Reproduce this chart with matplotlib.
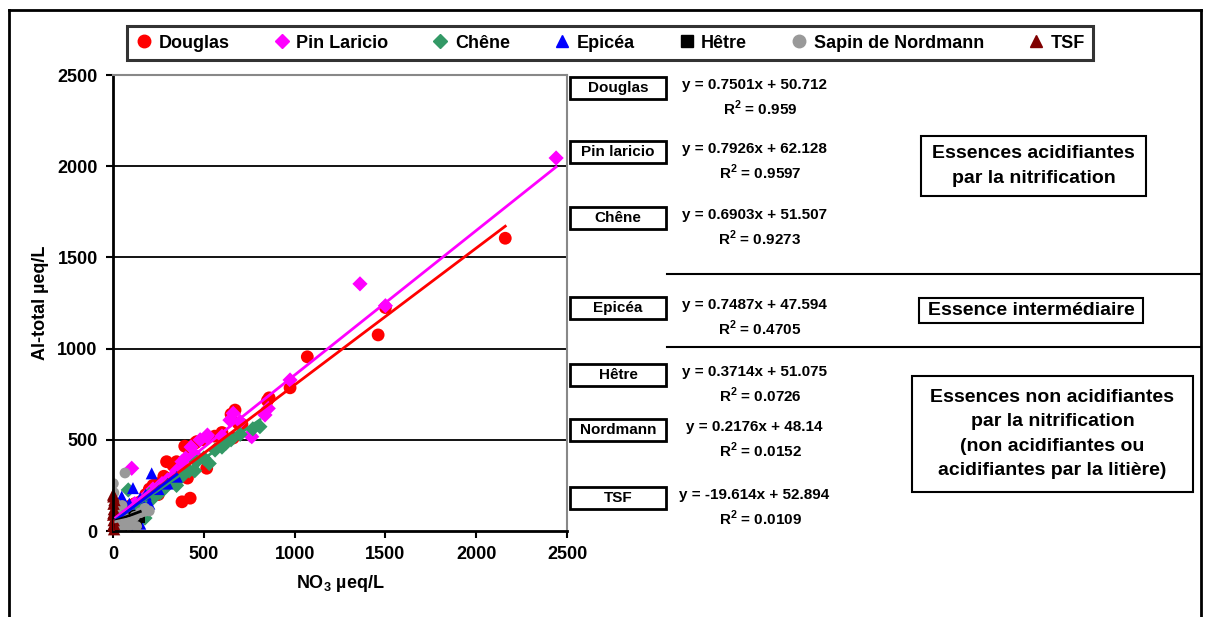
import matplotlib
matplotlib.use("Agg")
import matplotlib.pyplot as plt
from matplotlib.patches import Rectangle
from matplotlib.lines import Line2D

plt.rcParams['font.family'] = ['Liberation Sans', 'DejaVu Sans']
plt.rcParams['font.weight'] = 'bold'

# ---------------- data ----------------
species = ["Douglas", "Pin Laricio", "Chêne", "Epicéa", "Hêtre", "Sapin de Nordmann", "TSF"]
box_labels = ["Douglas", "Pin laricio", "Chêne", "Epicéa", "Hêtre", "Nordmann", "TSF"]
colors = ["#FF0000", "#FF00FF", "#339966", "#0000FF", "#000000", "#999999", "#800000"]
markers = ["o", "D", "D", "^", "s", "o", "^"]

douglas_x = [2160, 1500, 1460, 1070, 975, 860, 850, 710, 690, 672, 662, 650, 560, 516, 500, 461,
             452, 424, 420, 410, 395, 380, 425, 400, 350, 330, 295, 280, 250, 220, 200, 180,
             150, 120, 100, 80, 60, 40, 20, 10, 5, 30, 140, 250, 300, 370, 600]
douglas_y = [1605, 1225, 1075, 955, 785, 730, 715, 585, 590, 663, 510, 640, 520, 344, 500, 490,
             482, 435, 410, 290, 465, 160, 180, 330, 380, 360, 380, 300, 260, 250, 230, 200,
             160, 150, 140, 120, 100, 80, 60, 40, 20, 50, 110, 200, 270, 310, 540]

pin_x = [2440, 1360, 1500, 975, 855, 837, 764, 662, 644, 516, 480, 754, 520, 103, 450, 400,
         380, 350, 330, 300, 270, 250, 220, 200, 180, 150, 120, 90, 70, 50, 30, 15, 600, 700, 430]
pin_y = [2045, 1355, 1235, 828, 672, 636, 517, 645, 608, 517, 500, 526, 526, 344, 420, 400,
         380, 330, 300, 280, 260, 240, 230, 200, 190, 160, 150, 120, 90, 80, 60, 40, 520, 600, 460]

chene_x = [809, 770, 700, 650, 600, 562, 500, 460, 420, 380, 340, 300, 260, 220, 200, 180,
           150, 120, 100, 80, 60, 40, 20, 450, 350, 250, 176, 84, 50, 30, 530, 620]
chene_y = [572, 560, 530, 500, 460, 444, 400, 380, 330, 300, 270, 250, 210, 180, 200, 150,
           130, 110, 90, 80, 70, 60, 40, 330, 250, 230, 71, 225, 100, 20, 370, 480]

epicea_x = [213, 351, 300, 250, 180, 150, 110, 90, 48, 50, 40, 30, 20, 10, 120, 150, 80, 5, 15, 200]
epicea_y = [316, 298, 260, 230, 200, 180, 235, 150, 188, 120, 90, 60, 150, 170, 20, 40, 50, 100, 30, 150]

hetre_x = [130, 100, 80, 60, 50, 40, 30, 20, 10, 5, 150, 110, 70, 25, 15]
hetre_y = [40, 60, 30, 80, 20, 50, 100, 30, 60, 10, 70, 90, 110, 140, 80]

nord_x = [2, 66, 5, 176, 150, 100, 80, 60, 40, 20, 10, 120, 30, 50, 90, 130, 70, 15, 200]
nord_y = [260, 318, 210, 125, 100, 60, 40, 30, 20, 10, 50, 80, 90, 140, 30, 25, 70, 150, 110]

tsf_x = [2, 3, 5, 1, 4, 2, 6, 8, 1, 3, 5]
tsf_y = [190, 150, 120, 90, 60, 30, 10, 170, 200, 100, 40]

xs = [douglas_x, pin_x, chene_x, epicea_x, hetre_x, nord_x, tsf_x]
ys = [douglas_y, pin_y, chene_y, epicea_y, hetre_y, nord_y, tsf_y]

slopes = [0.7501, 0.7926, 0.6903, 0.7487, 0.3714, 0.2176, -19.614]
intercepts = [50.712, 62.128, 51.507, 47.594, 51.075, 48.14, 52.894]
equations = ["y = 0.7501x + 50.712", "y = 0.7926x + 62.128", "y = 0.6903x + 51.507",
             "y = 0.7487x + 47.594", "y = 0.3714x + 51.075", "y = 0.2176x + 48.14",
             "y = -19.614x + 52.894"]
r2 = ["0.959", "0.9597", "0.9273", "0.4705", "0.0726", "0.0152", "0.0109"]

ticks = [0, 500, 1000, 1500, 2000, 2500]

groups = ["Essences acidifiantes\npar la nitrification",
          "Essence intermédiaire",
          "Essences non acidifiantes\npar la nitrification\n(non acidifiantes ou\nacidifiantes par la litière)"]

# ---------------- figure ----------------
W, H = 1208, 617
fig = plt.figure(figsize=(W / 100, H / 100), dpi=100)

def fx(px):
    return px / W

def fy(py):
    return 1 - py / H

ax = fig.add_axes([fx(113), fy(531), fx(567) - fx(113), fy(75) - fy(531)])
ax.set_xlim(0, 2500)
ax.set_ylim(0, 2500)
ax.set_xticks(ticks)
ax.set_yticks(ticks)
for t in ticks[1:-1]:
    ax.axhline(t, color="black", lw=1.3, zorder=0)
for s in ["top", "right"]:
    ax.spines[s].set_color("#888888")
    ax.spines[s].set_linewidth(1.5)
for s in ["left", "bottom"]:
    ax.spines[s].set_color("black")
    ax.spines[s].set_linewidth(2)
ax.tick_params(direction="out", length=5, width=1.5, labelsize=13, pad=6)
for lab in ax.get_xticklabels() + ax.get_yticklabels():
    lab.set_fontweight("bold")
ax.set_xlabel("NO$_\\mathregular{3}$ µeq/L", fontsize=13, fontweight="bold", labelpad=7)
ax.set_ylabel("Al-total µeq/L", fontsize=13, fontweight="bold", labelpad=6)

sizes = [85, 60, 60, 75, 50, 60, 80]
handles = []
for i in range(len(species)):
    ax.scatter(xs[i], ys[i], s=sizes[i], marker=markers[i], color=colors[i],
               edgecolors="none", zorder=2 + i * 0.01, clip_on=False if i == 6 else True)
    handles.append(Line2D([], [], marker=markers[i], color=colors[i], ls="none",
                          markersize=9 if markers[i] != "D" else 7,
                          markeredgecolor=colors[i] if i != 4 else "black"))

for i in range(len(species)):
    x0, x1 = min(xs[i]), max(xs[i])
    if i == 6:
        x0, x1 = 0, 2.5
    ax.plot([x0, x1], [slopes[i] * x0 + intercepts[i], slopes[i] * x1 + intercepts[i]],
            color=colors[i], lw=2, zorder=5)

leg = fig.legend(handles, species, loc="center left", ncol=7,
                 bbox_to_anchor=(fx(127), fy(63), fx(1093) - fx(127), fy(23) - fy(63)),
                 mode="expand", frameon=True, fancybox=False, handletextpad=0.3,
                 prop={"weight": "bold", "size": 13}, borderaxespad=0, handlelength=1.0,
                 borderpad=0.45)
leg.get_frame().set_edgecolor("black")
leg.get_frame().set_linewidth(2.2)

# outer frame
fig.add_artist(Line2D([fx(9), fx(9)], [0, fy(10)], color="black", lw=2))
fig.add_artist(Line2D([fx(9), fx(1201)], [fy(10), fy(10)], color="black", lw=2))
fig.add_artist(Line2D([fx(1201), fx(1201)], [fy(10), 0], color="black", lw=2))

# species boxes and equations
box_tops = [77, 141, 207, 297, 364, 419, 487]
for i, top in enumerate(box_tops):
    fig.add_artist(Rectangle((fx(570), fy(top + 22)), fx(666) - fx(570), fy(top) - fy(top + 22),
                             fill=True, facecolor="white", edgecolor="black", lw=2))
    fig.text(fx(618), fy(top + 11), box_labels[i], ha="center", va="center",
             fontsize=11, fontweight="bold")
    fig.text(fx(754), fy(top + 8), equations[i], ha="center", va="center",
             fontsize=11, fontweight="bold")
    fig.text(fx(760), fy(top + 31), "R$^\\mathregular{2}$ = " + r2[i], ha="center", va="center",
             fontsize=11, fontweight="bold")

# separators
for yy in [274, 347]:
    fig.add_artist(Line2D([fx(667), fx(1201)], [fy(yy), fy(yy)], color="black", lw=1.5))

# group boxes
group_boxes = [(921, 136, 1146, 196), (919, 298, 1143, 323), (912, 376, 1193, 492)]
for (x0, y0, x1, y1), g in zip(group_boxes, groups):
    fig.add_artist(Rectangle((fx(x0), fy(y1)), fx(x1) - fx(x0), fy(y0) - fy(y1),
                             fill=False, edgecolor="black", lw=1.5))
    fig.text(fx((x0 + x1) / 2), fy((y0 + y1) / 2), g, ha="center", va="center",
             fontsize=14, fontweight="bold", linespacing=1.55)

fig.savefig("out.png", dpi=100)
